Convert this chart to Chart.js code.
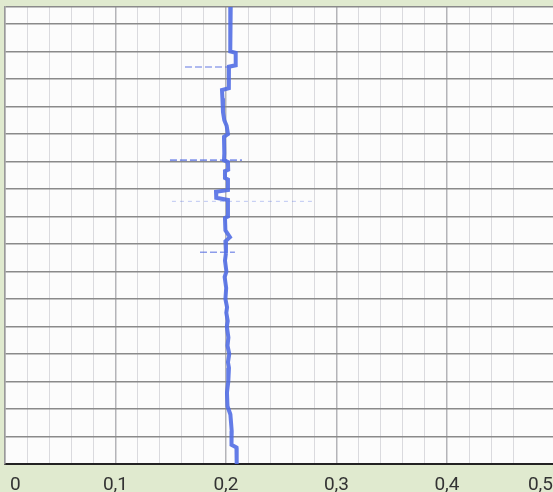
<!DOCTYPE html>
<html>
<head>
<meta charset="utf-8">
<script src="https://cdn.jsdelivr.net/npm/chart.js@4/dist/chart.umd.min.js"></script>
<style>
  html, body { margin: 0; padding: 0; background: #e0eacf; overflow: hidden; }
  #wrap { width: 553px; height: 492px; }
</style>
</head>
<body>
<div id="wrap"><canvas id="chart" width="553" height="492"></canvas></div>
<script>
// x axis labels (comma decimals as on the paper)
const tickValues = [0, 0.1, 0.2, 0.3, 0.4, 0.5];
const tickLabels = ['0', '0,1', '0,2', '0,3', '0,4', '0,5'];

// recorder trace, top of paper to bottom: x = reading, y = paper position
const traceX = [0.2043, 0.2040, 0.2038, 0.2088, 0.2088, 0.2027, 0.2027, 0.2025, 0.1964, 0.1968,
  0.1973, 0.1985, 0.2006, 0.2018, 0.1982, 0.1985, 0.1982, 0.2018, 0.2020, 0.1991,
  0.1991, 0.2018, 0.2018, 0.1910, 0.1912, 0.2018, 0.2018, 0.1991, 0.1995, 0.2036,
  0.1995, 0.2000, 0.1991, 0.2004, 0.1988, 0.2002, 0.1995, 0.2010, 0.2003, 0.2016,
  0.2008, 0.2022, 0.2014, 0.2030, 0.2018, 0.2027, 0.2021, 0.2009, 0.2014, 0.2040,
  0.2052, 0.2050, 0.2095, 0.2097];
const traceY = [16.62, 15.5, 15.0, 14.95, 14.5, 14.45, 14.0, 13.67, 13.6, 13.3,
  12.8, 12.5, 12.3, 12.0, 11.9, 11.3, 11.05, 10.98, 10.7, 10.65,
  10.4, 10.35, 9.96, 9.9, 9.68, 9.6, 9.0, 8.95, 8.5, 8.25,
  8.1, 7.67, 7.4, 7.0, 6.8, 6.4, 6.0, 5.7, 5.5, 5.2,
  5.0, 4.6, 4.3, 4.0, 3.7, 3.5, 3.0, 2.6, 2.1, 1.8,
  1.2, 0.7, 0.6, 0];

// short event marks drawn across the trace
const markY = [14.44, 11.05, 9.55, 7.7];
const markFrom = [0.1629, 0.1493, 0.1511, 0.1765];
const markTo = [0.2027, 0.2145, 0.2778, 0.2081];
const markAlpha = [0.6, 0.7, 0.3, 0.65];

const yMax = 16.62;

const trace = traceX.map((x, i) => ({ x: x, y: traceY[i] }));

const markSets = markY.map((y, i) => ({
  data: [{ x: markFrom[i], y: y }, { x: markTo[i], y: y }],
  showLine: true,
  borderColor: 'rgba(80,105,225,' + markAlpha[i] + ')',
  borderWidth: i === 2 ? 1.2 : 1.6,
  borderDash: i === 2 ? [4, 4] : [7, 3],
  pointRadius: 0
}));

function isMajor(v) {
  return Math.abs(v * 10 - Math.round(v * 10)) < 1e-6;
}

const paperPlugin = {
  id: 'paper',
  beforeDraw(chart) {
    const c = chart.ctx, a = chart.chartArea;
    c.save();
    c.fillStyle = '#e0eacf';
    c.fillRect(0, 0, chart.width, chart.height);
    c.fillStyle = '#fcfcfc';
    c.fillRect(a.left, a.top, a.right - a.left, a.bottom - a.top);
    c.restore();
  },
  afterDraw(chart) {
    const c = chart.ctx, xs = chart.scales.x;
    c.save();
    c.font = '19px Roboto';
    c.fillStyle = '#333';
    c.textBaseline = 'alphabetic';
    tickValues.forEach((v, i) => {
      const w = c.measureText(tickLabels[i]).width;
      let left = xs.getPixelForValue(v) - w / 2;
      left = Math.max(10, Math.min(chart.width - w, left));
      c.fillText(tickLabels[i], left, 490);
    });
    c.restore();
  }
};

new Chart(document.getElementById('chart').getContext('2d'), {
  type: 'scatter',
  data: {
    datasets: [{
      data: trace,
      showLine: true,
      borderColor: 'rgba(82,110,228,0.9)',
      borderWidth: 4,
      pointRadius: 0,
      tension: 0
    }].concat(markSets)
  },
  options: {
    responsive: false,
    animation: false,
    layout: { padding: { left: 5, top: 7, right: 0, bottom: 28 } },
    plugins: { legend: { display: false }, tooltip: { enabled: false } },
    scales: {
      x: {
        type: 'linear',
        min: 0,
        max: 0.496,
        ticks: { display: false, stepSize: 0.02 },
        grid: {
          drawTicks: false,
          color: ctx => isMajor(ctx.tick.value) ? '#b4b4b8' : '#dadade',
          lineWidth: ctx => isMajor(ctx.tick.value) ? 1.5 : 1
        },
        border: { color: '#222', width: 2 }
      },
      y: {
        type: 'linear',
        min: 0,
        max: yMax,
        ticks: { display: false, stepSize: 1 },
        grid: { drawTicks: false, color: '#8a8a8a', lineWidth: 1.6 },
        border: { color: '#999', width: 1.5 }
      }
    }
  },
  plugins: [paperPlugin]
});
</script>
</body>
</html>
